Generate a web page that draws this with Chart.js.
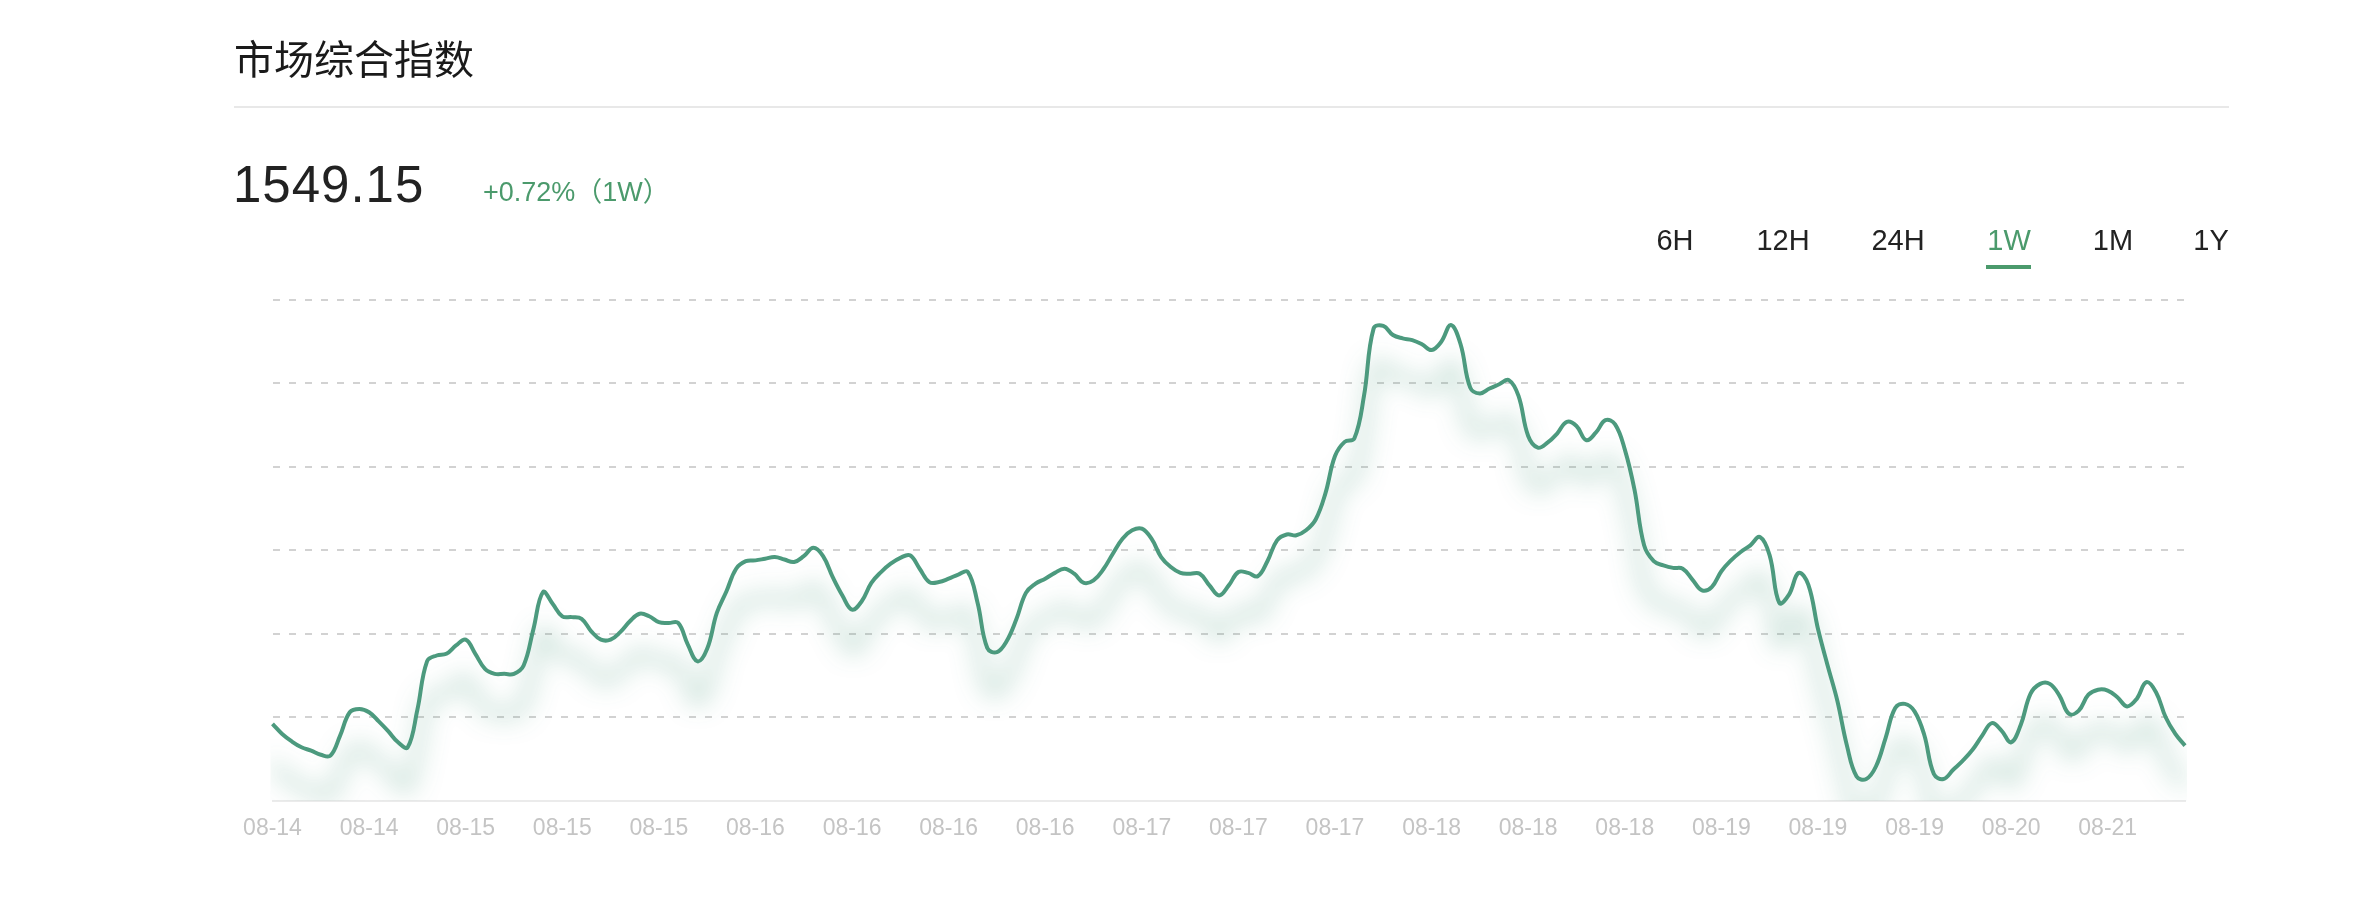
<!DOCTYPE html>
<html>
<head>
<meta charset="utf-8">
<title>市场综合指数</title>
<script src="https://cdn.jsdelivr.net/npm/chart.js@4.4.1/dist/chart.umd.min.js"></script>
<style>
	html, body { margin: 0; padding: 0; background: #fff; }
	body { width: 2366px; height: 904px; position: relative; overflow: hidden; font-family: "Liberation Sans", Arial, "Noto Sans CJK SC", sans-serif; }
	#canvasIndice { position: absolute; left: 0; top: 0; }
	.abs { position: absolute; white-space: nowrap; }
	.titulo { left: 234px; top: 37px; font-family: "Noto Sans CJK SC", sans-serif; font-weight: 400; font-size: 40px; line-height: 40px; color: #1a1a1a; }
	.linea { left: 234px; top: 106px; width: 1995px; height: 2px; background: #e8e8e8; }
	.precio { left: 233px; top: 159px; font-size: 51px; line-height: 51px; letter-spacing: 1px; color: #222; }
	.cambio { left: 483px; top: 179px; font-size: 27px; line-height: 27px; color: #4b9a6c; font-family: "Liberation Sans", "Noto Sans CJK SC", sans-serif; }
	.btn { top: 226px; width: 100px; margin-left: -50px; text-align: center; font-size: 29px; line-height: 29px; color: #222; }
	.btn.activo { color: #4b9a6c; }
	.subraya { left: 1986px; top: 265px; width: 45px; height: 4px; background: #4b9a6c; }
</style>
</head>
<body>
<canvas id="canvasIndice" width="2366" height="904"></canvas>

<div class="abs titulo">市场综合指数</div>
<div class="abs linea"></div>
<div class="abs precio">1549.15</div>
<div class="abs cambio">+0.72%（1W）</div>

<div class="abs btn" style="left:1675px">6H</div>
<div class="abs btn" style="left:1783px">12H</div>
<div class="abs btn" style="left:1898px">24H</div>
<div class="abs btn activo" style="left:2009px">1W</div>
<div class="abs btn" style="left:2113px">1M</div>
<div class="abs btn" style="left:2211px">1Y</div>
<div class="abs subraya"></div>

<script>
// etiquetas del eje x (una cada 10 puntos)
var tickLabels = ['08-14', '08-14', '08-15', '08-15', '08-15', '08-16', '08-16', '08-16', '08-16', '08-17',
	'08-17', '08-17', '08-18', '08-18', '08-18', '08-19', '08-19', '08-19', '08-20', '08-21'];
var pointsPerTick = 10;

// valores del indice (en divisiones de la rejilla, 0 = base)
var indexValues = [
	0.92, 0.80, 0.71, 0.64, 0.60, 0.55, 0.54, 0.78, 1.06, 1.10,
	1.06, 0.95, 0.83, 0.70, 0.64, 1.09, 1.67, 1.74, 1.76, 1.86,
	1.93, 1.76, 1.58, 1.52, 1.52, 1.52, 1.62, 2.05, 2.50, 2.36,
	2.21, 2.20, 2.18, 2.03, 1.93, 1.93, 2.02, 2.15, 2.24, 2.21,
	2.14, 2.13, 2.13, 1.87, 1.67, 1.82, 2.25, 2.51, 2.78, 2.87,
	2.88, 2.90, 2.92, 2.89, 2.86, 2.93, 3.03, 2.93, 2.68, 2.46,
	2.29, 2.39, 2.61, 2.74, 2.84, 2.91, 2.94, 2.78, 2.62, 2.62,
	2.66, 2.71, 2.74, 2.37, 1.83, 1.78, 1.91, 2.17, 2.49, 2.60,
	2.66, 2.73, 2.78, 2.72, 2.61, 2.64, 2.77, 2.96, 3.14, 3.24,
	3.26, 3.14, 2.92, 2.80, 2.73, 2.72, 2.72, 2.58, 2.46, 2.58,
	2.74, 2.73, 2.69, 2.87, 3.12, 3.19, 3.18, 3.24, 3.37, 3.68,
	4.13, 4.30, 4.34, 4.85, 5.66, 5.69, 5.58, 5.54, 5.52, 5.47,
	5.40, 5.50, 5.70, 5.47, 4.95, 4.88, 4.94, 4.99, 5.04, 4.85,
	4.37, 4.23, 4.29, 4.40, 4.54, 4.49, 4.32, 4.41, 4.56, 4.51,
	4.21, 3.73, 3.06, 2.87, 2.82, 2.79, 2.78, 2.65, 2.52, 2.56,
	2.75, 2.88, 2.98, 3.06, 3.16, 2.94, 2.37, 2.47, 2.73, 2.59,
	2.06, 1.62, 1.20, 0.66, 0.29, 0.26, 0.41, 0.75, 1.11, 1.16,
	1.07, 0.79, 0.32, 0.26, 0.37, 0.48, 0.61, 0.78, 0.93, 0.84,
	0.70, 0.91, 1.28, 1.40, 1.40, 1.26, 1.04, 1.08, 1.27, 1.33,
	1.32, 1.24, 1.13, 1.22, 1.42, 1.30, 1.00, 0.80, 0.66
];

// sombra verde difuminada debajo de la linea
var sombraLinea = {
	id: 'sombraLinea',
	beforeDatasetDraw: function(chart){
		var ctx = chart.ctx;
		ctx.save();
		ctx.shadowColor = 'rgba(76,154,126,0.8)';
		ctx.shadowBlur = 24;
		ctx.shadowOffsetX = 0;
		ctx.shadowOffsetY = 40;
	},
	afterDatasetDraw: function(chart){
		chart.ctx.restore();
	}
};

function reportIndice(){
	var toLabels = [];
	indexValues.forEach(function(v, i){
		toLabels.push(tickLabels[Math.floor(i / pointsPerTick)]);
	});

	var ctx = document.getElementById('canvasIndice').getContext('2d');
	window.myLine = new Chart(ctx, {
		type: 'line',
		data: {
			labels: toLabels,
			datasets: [{
				label: '市场综合指数',
				data: indexValues,
				borderColor: '#4c9a7e',
				borderWidth: 4,
				pointRadius: 0,
				pointHoverRadius: 0,
				fill: false,
				tension: 0.4
			}]
		},
		plugins: [sombraLinea],
		options: {
			responsive: false,
			animation: false,
			layout: {
				padding: { left: 0, top: 300, right: 181, bottom: 0 }
			},
			plugins: {
				legend: { display: false },
				tooltip: { enabled: false }
			},
			scales: {
				x: {
					grid: { display: false, drawTicks: false },
					border: { display: true, color: '#ebebeb', width: 2 },
					afterFit: function(s){ s.height = 103.3; },
					ticks: {
						autoSkip: false,
						maxRotation: 0,
						minRotation: 0,
						padding: 14,
						color: '#c4c4c4',
						font: { family: 'Liberation Sans', size: 23 },
						callback: function(val, i){
							return i % pointsPerTick === 0 ? tickLabels[i / pointsPerTick] : null;
						}
					}
				},
				y: {
					min: 0,
					max: 6,
					afterFit: function(s){ s.width = 272.5; },
					ticks: { display: false, stepSize: 1 },
					border: { display: false, dash: [7, 9] },
					grid: {
						drawTicks: false,
						lineWidth: 2,
						color: function(c){
							return (c.tick && c.tick.value === 0) ? 'rgba(0,0,0,0)' : '#d2d2d2';
						}
					}
				}
			}
		}
	});
}

window.onload = function(){
	reportIndice();
};
</script>
</body>
</html>
